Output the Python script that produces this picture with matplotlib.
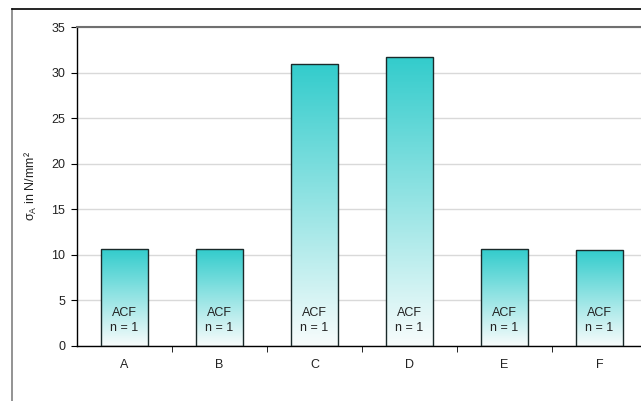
import matplotlib
matplotlib.use("Agg")
import matplotlib.pyplot as plt
import numpy as np
from matplotlib.colors import LinearSegmentedColormap
from matplotlib.patches import Rectangle

categories = ["A", "B", "C", "D", "E", "F"]
values = [10.6, 10.6, 30.9, 31.7, 10.6, 10.5]
bar_labels = ["ACF\nn = 1"] * 6
yticks = [0, 5, 10, 15, 20, 25, 30, 35]

plt.rcParams['font.family'] = ['Liberation Sans', 'DejaVu Sans']
plt.rcParams['mathtext.fontset'] = 'custom'
plt.rcParams['mathtext.rm'] = 'Liberation Sans'
plt.rcParams['mathtext.it'] = 'Liberation Sans'

fig = plt.figure(figsize=(6.41, 4.01), dpi=100)
W, H = 641, 401
ax = fig.add_axes([77 / W, 1 - 346 / H, 570 / W, 319 / H])

# outer chart frame
fig.add_artist(plt.Line2D([12 / W, 12 / W], [0, 1 - 9 / H], transform=fig.transFigure,
                          color='#808080', lw=1.2))
fig.add_artist(plt.Line2D([12 / W, 1], [1 - 9 / H, 1 - 9 / H], transform=fig.transFigure,
                          color='black', lw=1.2))

cmap = LinearSegmentedColormap.from_list("tq", ["#F8FCFC", "#33CCCC"])
grad = np.linspace(0, 1, 256).reshape(-1, 1)
x = np.arange(len(categories))
w = 0.5
for xi, v, lab in zip(x, values, bar_labels):
    ax.imshow(grad, extent=[xi - w / 2, xi + w / 2, 0, v], origin='lower',
              cmap=cmap, aspect='auto', zorder=2)
    ax.add_patch(Rectangle((xi - w / 2, 0), w, v, facecolor='none',
                           edgecolor='#1a2a2a', lw=1.0, zorder=3))
    ax.text(xi, 2.8, lab, ha='center', va='center', fontsize=9,
            color='#222222', linespacing=1.3, zorder=4)

ax.set_xlim(-0.5, len(categories) - 0.5)
ax.set_ylim(0, 35)
ax.set_yticks(yticks)
ax.set_yticklabels([str(t) for t in yticks], fontsize=9, color='#222222')
ax.set_xticks(x)
ax.set_xticklabels(categories, fontsize=9, color='#222222')
ax.set_xticks(np.arange(0.5, len(categories) - 0.5, 1), minor=True)
ax.tick_params(axis='x', which='major', length=0, pad=9)
ax.tick_params(axis='x', which='minor', length=4, direction='out', color='black')
ax.tick_params(axis='y', length=4, direction='out', pad=4.5)

ax.grid(axis='y', color='#d9d9d9', lw=1.0, zorder=0)
ax.set_axisbelow(True)
for s in ['left', 'bottom']:
    ax.spines[s].set_color('black')
    ax.spines[s].set_linewidth(1.0)
ax.spines['top'].set_color('#707070')
ax.spines['top'].set_linewidth(1.5)
ax.spines['right'].set_visible(False)

ax.set_ylabel("σ$_\\mathrm{A}$ in N/mm²", fontsize=9, labelpad=9, color='#222222')

fig.savefig("out.png", dpi=100)
